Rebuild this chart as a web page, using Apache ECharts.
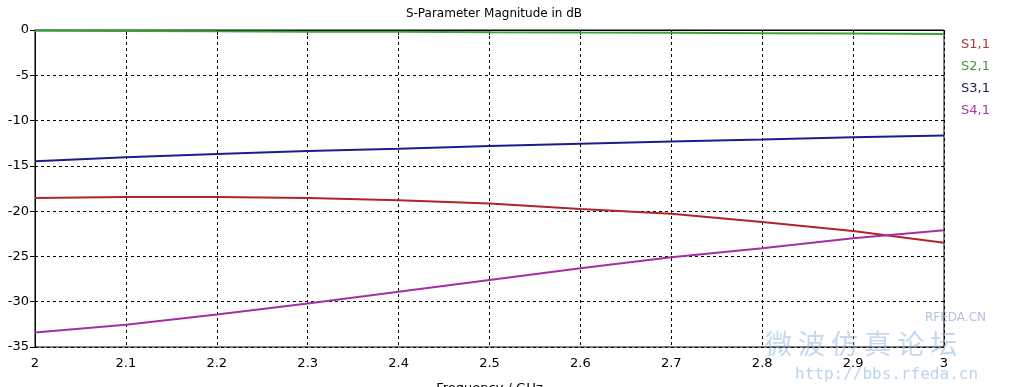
<!DOCTYPE html>
<html>
<head>
<meta charset="utf-8">
<script src="https://cdn.jsdelivr.net/npm/echarts@6/dist/echarts.min.js"></script>
<style>html,body{margin:0;padding:0;background:#fff;}#c{width:1009px;height:387px;}</style>
</head>
<body>
<div id="c"></div>
<script>
const freq = [2.0, 2.1, 2.2, 2.3, 2.4, 2.5, 2.6, 2.7, 2.8, 2.9, 3.0];
const s11 = [-18.55, -18.45, -18.45, -18.55, -18.8, -19.15, -19.75, -20.3, -21.2, -22.2, -23.5];
const s21 = [-0.08, -0.1, -0.15, -0.18, -0.2, -0.25, -0.28, -0.3, -0.35, -0.4, -0.45];
const s31 = [-14.5, -14.05, -13.7, -13.35, -13.1, -12.8, -12.55, -12.3, -12.1, -11.85, -11.65];
const s41 = [-33.4, -32.55, -31.4, -30.2, -28.9, -27.6, -26.3, -25.1, -24.1, -23.0, -22.1];
const names = ['S1,1', 'S2,1', 'S3,1', 'S4,1'];
const colors = ['#b0242c', '#3aa33a', '#1c1c90', '#a52fa5'];
const textColors = ['#a33a3a', '#3f9a3f', '#1e1e50', '#a040a8'];

const font = 'DejaVu Sans';
const chart = echarts.init(document.getElementById('c'));
const seriesData = [s11, s21, s31, s41];
chart.setOption({
  animation: false,
  title: {
    text: 'S-Parameter Magnitude in dB',
    left: 489, top: 3, textAlign: 'center',
    textStyle: {fontFamily: font, fontSize: 12, fontWeight: 'normal', color: '#000'}
  },
  legend: {
    orient: 'vertical', left: 951, top: 32, itemGap: 8,
    icon: 'none', itemWidth: 0, itemHeight: 15,
    data: names.map((n, i) => ({name: n, textStyle: {color: textColors[i]}})),
    textStyle: {fontFamily: font, fontSize: 13, padding: 0}
  },
  grid: {left: 35, right: 65, top: 30, bottom: 40, show: true, borderColor: '#000', borderWidth: 1,
    outerBoundsMode: 'none', containLabel: false},
  xAxis: {
    type: 'value', min: 2, max: 3, interval: 0.1,
    name: 'Frequency / GHz', nameLocation: 'middle', nameGap: 35,
    nameTextStyle: {fontFamily: font, fontSize: 13, color: '#000'},
    axisLine: {lineStyle: {color: '#000', width: 1}},
    axisTick: {show: true, length: 5, lineStyle: {color: '#000'}},
    axisLabel: {fontFamily: font, fontSize: 13, color: '#000', margin: 10,
      formatter: v => String(Math.round(v * 10) / 10)},
    splitLine: {show: true, lineStyle: {color: '#000', type: [3, 3], width: 1}}
  },
  yAxis: {
    type: 'value', min: -35, max: 0, interval: 5,
    axisLine: {show: true, lineStyle: {color: '#000', width: 1}},
    axisTick: {show: true, length: 5, lineStyle: {color: '#000'}},
    axisLabel: {fontFamily: font, fontSize: 13, color: '#000', margin: 6},
    splitLine: {show: true, lineStyle: {color: '#000', type: [3, 3], width: 1}}
  },
  series: names.map((n, i) => ({
    name: n, type: 'line', showSymbol: false, symbol: 'none', z: 3,
    color: colors[i],
    lineStyle: {width: 2, color: colors[i]},
    data: freq.map((f, j) => [f, seriesData[i][j]])
  })),
  graphic: [
    {type: 'text', left: 925, top: 312, z: 10, style: {text: 'RFEDA.CN', font: '12px "DejaVu Sans"', fill: 'rgba(120,140,200,0.55)'}},
    {type: 'text', left: 765, top: 330, z: 10, style: {text: '微 波 仿 真 论 坛', font: '27px "Noto Sans CJK SC"', fill: 'rgba(120,170,220,0.45)'}},
    {type: 'text', left: 795, top: 367, z: 10, style: {text: 'http://bbs.rfeda.cn', font: '16px "DejaVu Sans Mono"', fill: 'rgba(120,170,220,0.5)'}}
  ]
});
</script>
</body>
</html>
